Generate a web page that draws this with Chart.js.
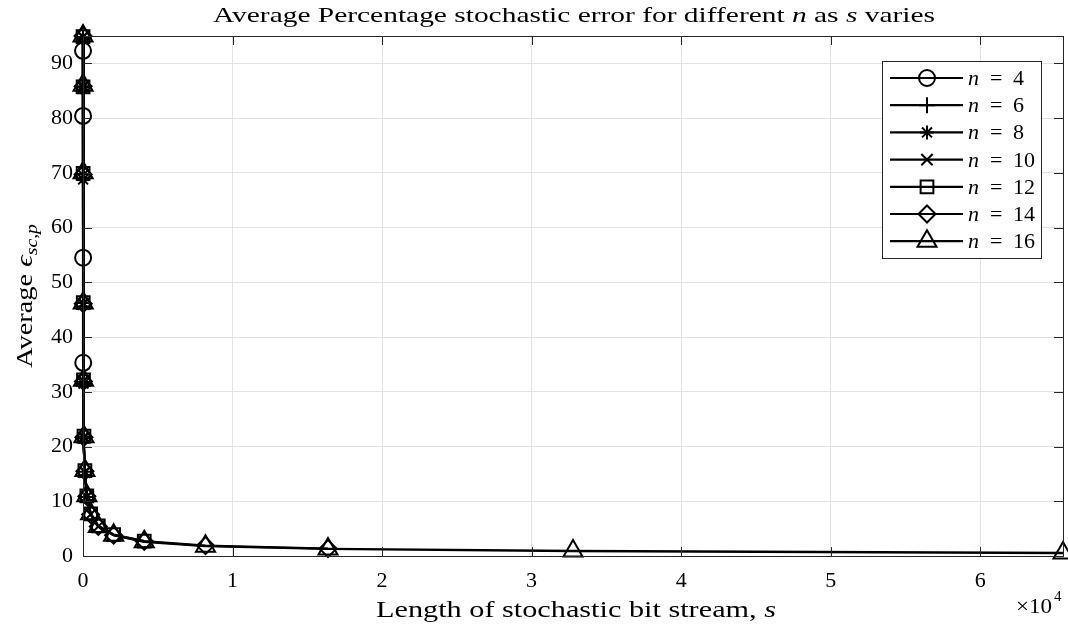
<!DOCTYPE html>
<html>
<head>
<meta charset="utf-8">
<script src="https://cdn.jsdelivr.net/npm/chart.js@4/dist/chart.umd.min.js"></script>
<style>
  html, body { margin: 0; padding: 0; background: #fff; }
  #wrap { width: 1068px; height: 630px; }
</style>
</head>
<body>
<div id="wrap"><canvas id="chart" width="1068" height="630"></canvas></div>
<script>
// bit stream lengths s = 2^1 .. 2^16
const sValues = [2, 4, 8, 16, 32, 64, 128, 256, 512, 1024, 2048, 4096, 8192, 16384, 32768, 65536];

// average percentage stochastic error per n (series n uses the first n lengths)
const errN4 = [92.3, 80.4, 54.5, 35.3];
const errN6 = [94.6, 85.8, 69.8, 45.6, 31.8, 21.5];
const errN8 = [94.8, 85.6, 68.8, 46.2, 31.5, 21.8, 15.4, 10.8];
const errN10 = [94.9, 85.9, 69.6, 46.0, 32.0, 21.6, 15.3, 10.9, 7.6, 5.4];
const errN12 = [94.9, 85.7, 69.9, 46.3, 32.2, 21.9, 15.6, 11.0, 7.7, 5.5, 3.9, 2.7];
const errN14 = [95.0, 85.8, 69.7, 46.1, 31.9, 21.7, 15.5, 10.9, 7.6, 5.4, 3.8, 2.7, 1.9, 1.35];
const errN16 = [95.0, 86.0, 70.0, 46.2, 32.1, 21.8, 15.6, 11.0, 7.7, 5.4, 3.8, 2.6, 1.8, 1.3, 0.9, 0.55];

const seriesLabels = ['4', '6', '8', '10', '12', '14', '16'];
const seriesErrors = [errN4, errN6, errN8, errN10, errN12, errN14, errN16];
const markerStyles = ['circle', 'cross', 'star', 'crossRot', 'rect', 'rectRot', 'triangle'];
const markerSizes = [8, 8, 7, 8, 9, 8.5, 11];

const xTicks = [0, 10000, 20000, 30000, 40000, 50000, 60000];
const yTicks = [0, 10, 20, 30, 40, 50, 60, 70, 80, 90];

const SERIF = '"Liberation Serif", "DejaVu Serif", serif';

const datasets = seriesErrors.map(function (errs, i) {
    return {
        label: 'n = ' + seriesLabels[i],
        data: errs.map(function (v, k) { return { x: sValues[k], y: v }; }),
        borderColor: '#000',
        backgroundColor: 'rgba(0,0,0,0)',
        borderWidth: 2.4,
        pointStyle: markerStyles[i],
        pointRadius: markerSizes[i],
        pointBorderColor: '#000',
        pointBackgroundColor: 'rgba(0,0,0,0)',
        pointBorderWidth: 2,
        tension: 0,
        clip: false
    };
});

// draws a row of [text, fontPrefix, dy, size] pieces stretched to a given width
function drawStretched(ctx, parts, size, left, baseline, width) {
    let total = 0;
    parts.forEach(function (p) { ctx.font = p[1] + (p[3] || size) + 'px ' + SERIF; total += ctx.measureText(p[0]).width; });
    const k = width / total;
    ctx.save();
    ctx.translate(left, baseline);
    ctx.scale(k, 1);
    let x = 0;
    parts.forEach(function (p) {
        ctx.font = p[1] + (p[3] || size) + 'px ' + SERIF;
        ctx.fillText(p[0], x, p[2] || 0);
        x += ctx.measureText(p[0]).width;
    });
    ctx.restore();
}

// box, inward tick marks, title, axis labels, legend
const decorations = {
    id: 'decorations',
    afterDatasetsDraw(chart) {
        const ctx = chart.ctx;
        const a = chart.chartArea;
        const xs = chart.scales.x, ys = chart.scales.y;
        ctx.save();
        ctx.strokeStyle = '#262626';
        ctx.lineWidth = 1;
        ctx.beginPath();
        xTicks.forEach(function (t) {
            const px = Math.round(xs.getPixelForValue(t)) + 0.5;
            ctx.moveTo(px, a.bottom); ctx.lineTo(px, a.bottom - 9);
            ctx.moveTo(px, a.top); ctx.lineTo(px, a.top + 9);
        });
        yTicks.forEach(function (t) {
            const py = Math.round(ys.getPixelForValue(t)) + 0.5;
            ctx.moveTo(a.left, py); ctx.lineTo(a.left + 9, py);
            ctx.moveTo(a.right, py); ctx.lineTo(a.right - 9, py);
        });
        ctx.stroke();
        ctx.strokeRect(Math.round(a.left) + 0.5, Math.round(a.top) + 0.5,
            Math.round(a.right - a.left), Math.round(a.bottom - a.top));
        ctx.restore();
    },
    afterDraw(chart) {
        const ctx = chart.ctx;
        ctx.save();
        ctx.fillStyle = '#000';
        ctx.textBaseline = 'alphabetic';

        // title with italic n and s
        drawStretched(ctx, [
            ['Average Percentage stochastic error for different ', ''],
            ['n', 'italic '],
            [' as ', ''],
            ['s', 'italic '],
            [' varies', '']
        ], 22, 213, 22, 722);

        // x label
        drawStretched(ctx, [['Length of stochastic bit stream, ', ''], ['s', 'italic ']], 23, 376, 617, 400);

        // exponent label
        drawStretched(ctx, [['\u00d710', '']], 22, 1016, 613, 36);
        ctx.font = '15px ' + SERIF;
        ctx.fillText('4', 1054, 601);

        // y label, rotated
        ctx.save();
        ctx.translate(32, 368);
        ctx.rotate(-Math.PI / 2);
        drawStretched(ctx, [['Average ', ''], ['\u03f5', 'italic '], ['sc,p', 'italic ', 5, 16]], 23, 0, 0, 144);
        ctx.restore();
        ctx.restore();

        // legend
        ctx.save();
        const bx = 882, by = 61, bw = 159, bh = 197;
        ctx.fillStyle = '#fff';
        ctx.fillRect(bx, by, bw, bh);
        ctx.strokeStyle = '#262626';
        ctx.lineWidth = 1;
        ctx.strokeRect(bx + 0.5, by + 0.5, bw, bh);
        seriesLabels.forEach(function (lab, i) {
            const ry = by + 17 + i * 27.2;
            ctx.strokeStyle = '#000';
            ctx.lineWidth = 2.2;
            ctx.beginPath();
            ctx.moveTo(bx + 8, ry); ctx.lineTo(bx + 81, ry);
            ctx.stroke();
            ctx.lineWidth = 2;
            ctx.fillStyle = 'rgba(0,0,0,0)';
            Chart.helpers.drawPoint(ctx, { pointStyle: markerStyles[i], radius: markerSizes[i], rotation: 0, borderWidth: 2 }, bx + 45, ry);
            ctx.fillStyle = '#000';
            ctx.textBaseline = 'alphabetic';
            ctx.font = 'italic 22px ' + SERIF;
            ctx.fillText('n', bx + 86, ry + 7);
            ctx.font = '22px ' + SERIF;
            ctx.fillText('=', bx + 108, ry + 7);
            ctx.fillText(lab, bx + 131, ry + 7);
        });
        ctx.restore();
    }
};

new Chart(document.getElementById('chart').getContext('2d'), {
    type: 'line',
    data: { datasets: datasets },
    options: {
        responsive: false,
        animation: false,
        layout: { autoPadding: false, padding: { top: 36, right: 5, left: 0, bottom: 0 } },
        plugins: {
            legend: { display: false },
            title: { display: false },
            tooltip: { enabled: false }
        },
        scales: {
            x: {
                type: 'linear',
                min: 0,
                max: 65536,
                afterBuildTicks: function (scale) { scale.ticks = xTicks.map(function (v) { return { value: v }; }); },
                afterFit: function (scale) {
                    scale.height = 74;
                    scale.paddingLeft = 0;
                    scale.paddingRight = 0;
                },
                grid: { color: '#e3e3e3', lineWidth: 1, drawTicks: false },
                border: { display: false },
                ticks: {
                    color: '#000',
                    padding: 12,
                    maxRotation: 0,
                    font: { family: SERIF, size: 22 },
                    callback: function (v) { return String(v / 10000); }
                }
            },
            y: {
                min: 0,
                max: 95,
                afterBuildTicks: function (scale) { scale.ticks = yTicks.map(function (v) { return { value: v }; }); },
                afterFit: function (scale) { scale.width = 83; },
                grid: { color: '#e3e3e3', lineWidth: 1, drawTicks: false },
                border: { display: false },
                ticks: {
                    color: '#000',
                    padding: 10,
                    font: { family: SERIF, size: 22 }
                }
            }
        }
    },
    plugins: [decorations]
});
</script>
</body>
</html>
